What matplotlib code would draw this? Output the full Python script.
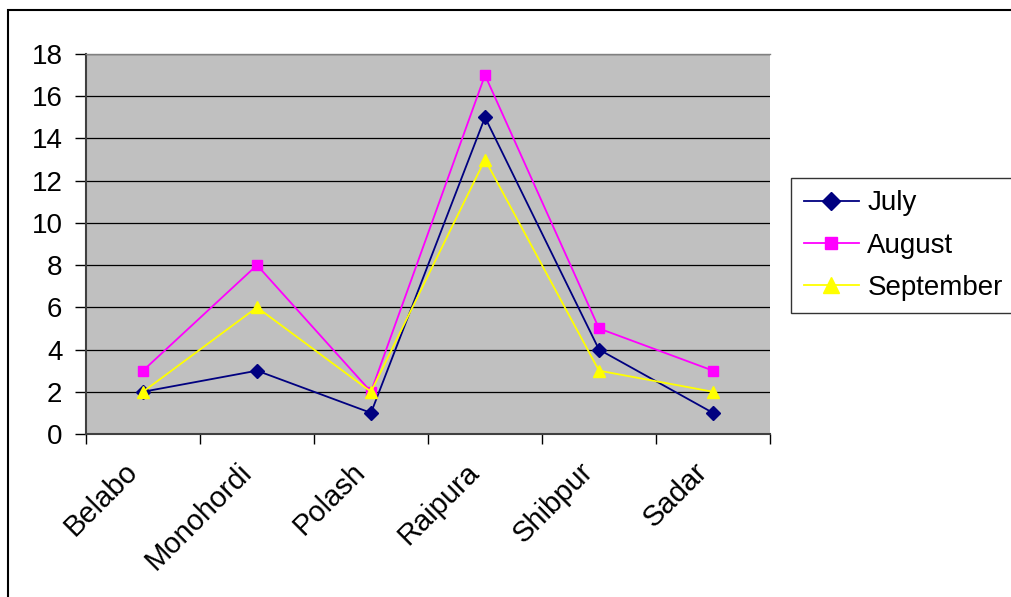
import matplotlib.pyplot as plt
from matplotlib.patches import Rectangle
from matplotlib.transforms import ScaledTranslation
import numpy as np

plt.rcParams['font.family'] = ['Liberation Sans', 'DejaVu Sans']

districts = ['Belabo', 'Monohordi', 'Polash', 'Raipura', 'Shibpur', 'Sadar']
july = [2, 3, 1, 15, 4, 1]
august = [3, 8, 2, 17, 5, 3]
september = [2, 6, 2, 13, 3, 2]

W, H = 1011, 597
fig = plt.figure(figsize=(W / 100, H / 100), dpi=100)

# outer chart frame (runs off the right/bottom edge)
fig.patches.append(Rectangle((8 / W, -0.05), 1.1, 1 - 10 / H + 0.05,
                             transform=fig.transFigure, fill=False,
                             edgecolor='black', linewidth=1.5))

ax = fig.add_axes([86 / W, 1 - 434 / H, (770 - 86) / W, (434 - 54) / H])
ax.set_facecolor('#C0C0C0')

x = np.arange(len(districts))
ax.plot(x, july, color='#000080', marker='D', markersize=7, linewidth=1.3,
        label='July', zorder=3)
ax.plot(x, august, color='#FF00FF', marker='s', markersize=7, linewidth=1.3,
        label='August', zorder=3)
ax.plot(x, september, color='#FFFF00', marker='^', markersize=9, linewidth=1.3,
        label='September', zorder=3)

ax.set_xlim(-0.5, len(districts) - 0.5)
ax.set_ylim(0, 18)
ax.set_yticks(range(0, 19, 2))
ax.yaxis.grid(True, color='black', linewidth=0.9)
ax.set_axisbelow(True)
ax.tick_params(axis='y', labelsize=20, length=8, width=1, direction='out', pad=9)

# ticks between categories, labels at category centres
ax.set_xticks(np.arange(-0.5, len(districts), 1.0))
ax.set_xticklabels([])
ax.set_xticks(x, minor=True)
ax.set_xticklabels(districts, minor=True, rotation=45, ha='right',
                   rotation_mode='anchor', fontsize=21)
ax.tick_params(axis='x', which='major', length=7, width=1, direction='out')
ax.tick_params(axis='x', which='minor', length=0, pad=17)
shift = ScaledTranslation(-0.2, 0, fig.dpi_scale_trans)
for lbl in ax.get_xticklabels(minor=True):
    lbl.set_transform(lbl.get_transform() + shift)

for side in ['left', 'bottom']:
    ax.spines[side].set_color('#404040')
    ax.spines[side].set_linewidth(1.5)
ax.spines['top'].set_color('#808080')
ax.spines['top'].set_linewidth(1)
ax.spines['right'].set_visible(False)

leg = ax.legend(loc='upper left', bbox_to_anchor=(791 / W, 1 - 178 / H),
                bbox_transform=fig.transFigure, fontsize=20, frameon=True,
                fancybox=False, borderpad=0.45, labelspacing=0.58,
                handlelength=2.0, handletextpad=0.3, borderaxespad=0,
                markerscale=1.3)
leg.get_frame().set_edgecolor('black')
leg.get_frame().set_linewidth(1)

fig.savefig('out.png', dpi=100)
